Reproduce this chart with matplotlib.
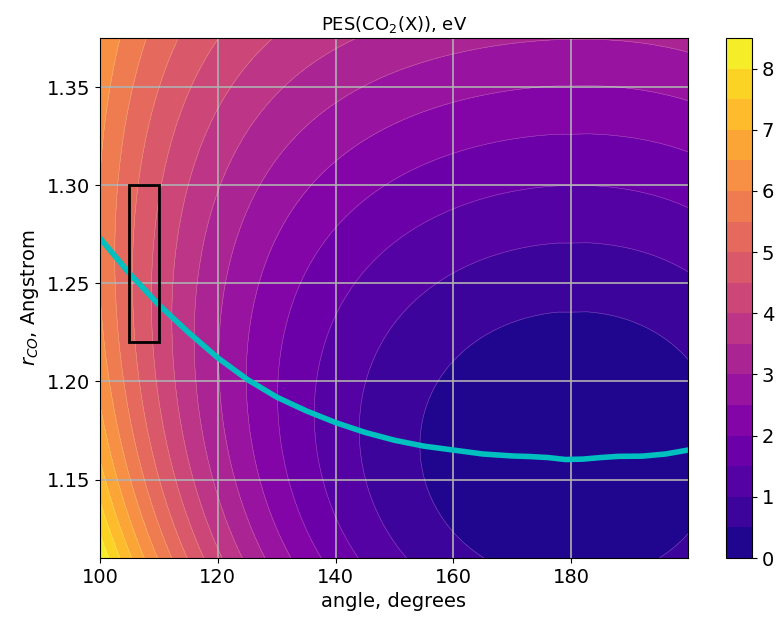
import numpy as np
import matplotlib.pyplot as plt
from matplotlib.patches import Rectangle
from numpy.polynomial import Polynomial

# minimum energy path (cyan line)
path_angle = [100, 105, 110, 115, 120, 125, 130, 135, 140, 145, 150, 155, 160,
              165, 170, 173, 176, 179, 182, 185, 188, 192, 196, 199.8]
path_r = [1.273, 1.255, 1.239, 1.225, 1.212, 1.201, 1.192, 1.185, 1.179, 1.174,
          1.170, 1.167, 1.165, 1.163, 1.162, 1.1617, 1.1612, 1.1602, 1.1604,
          1.1612, 1.1618, 1.1619, 1.163, 1.165]

ridge_angle = [100, 110, 120, 130, 140, 150, 160, 170, 180, 190, 200]
ridge_energy = [5.95, 4.30, 3.02, 2.02, 1.25, 0.68, 0.30, 0.07, 0.0, 0.07, 0.30]

# how stiff the C-O stretch is at each angle (1 = linear molecule)
stretch_angle = [100, 120, 140, 160, 180, 200]
stretch_scale = [0.57, 0.76, 0.90, 0.97, 1.0, 0.97]
morse_depth = 18.7   # eV
morse_alpha = 2.4    # 1/Angstrom

levels = np.arange(0, 9, 0.5)
cbar_ticks = [0, 1, 2, 3, 4, 5, 6, 7, 8]
box_angle = [105, 110]
box_r = [1.22, 1.30]

# build the surface from the read values
ang = np.linspace(100, 199.8, 400)
rr = np.linspace(1.11, 1.375, 300)
A, R = np.meshgrid(ang, rr)
re = Polynomial.fit(path_angle, path_r, 4)(A)
v = np.maximum(Polynomial.fit(ridge_angle, ridge_energy, 4)(A), 0)
s = Polynomial.fit(stretch_angle, stretch_scale, 2)(A)
E = v + s * morse_depth * (1 - np.exp(-morse_alpha * (R - re))) ** 2
E = np.minimum(E, 8.49)

fig = plt.figure(figsize=(7.78, 6.2), dpi=100)
ax = fig.add_axes([0.1285, 0.1, 0.7558, 0.8387])
cax = fig.add_axes([0.9332, 0.1, 0.0334, 0.8387])

cs = ax.contourf(A, R, E, levels=levels, cmap='plasma')
ax.contour(A, R, E, levels=levels, colors='white', linewidths=0.4, alpha=0.3)
ax.plot(path_angle, path_r, color='c', lw=4)
ax.add_patch(Rectangle((box_angle[0], box_r[0]), box_angle[1] - box_angle[0],
                       box_r[1] - box_r[0], fill=False, ec='k', lw=2, zorder=3))
ax.grid(True, color='#b0b0b0', lw=1.2)
ax.set_xlim(100, 199.8)
ax.set_ylim(1.11, 1.375)
ax.set_xticks([100, 120, 140, 160, 180])
ax.set_yticks([1.15, 1.20, 1.25, 1.30, 1.35])
ax.tick_params(labelsize=14)
ax.set_xlabel('angle, degrees', fontsize=14)
ax.set_ylabel('$r_{CO}$, Angstrom', fontsize=14)
ax.set_title('PES(CO$_2$(X)), eV', fontsize=13)

cb = fig.colorbar(cs, cax=cax, ticks=cbar_ticks)
cb.ax.tick_params(labelsize=14)

fig.savefig('out.png', dpi=100)
